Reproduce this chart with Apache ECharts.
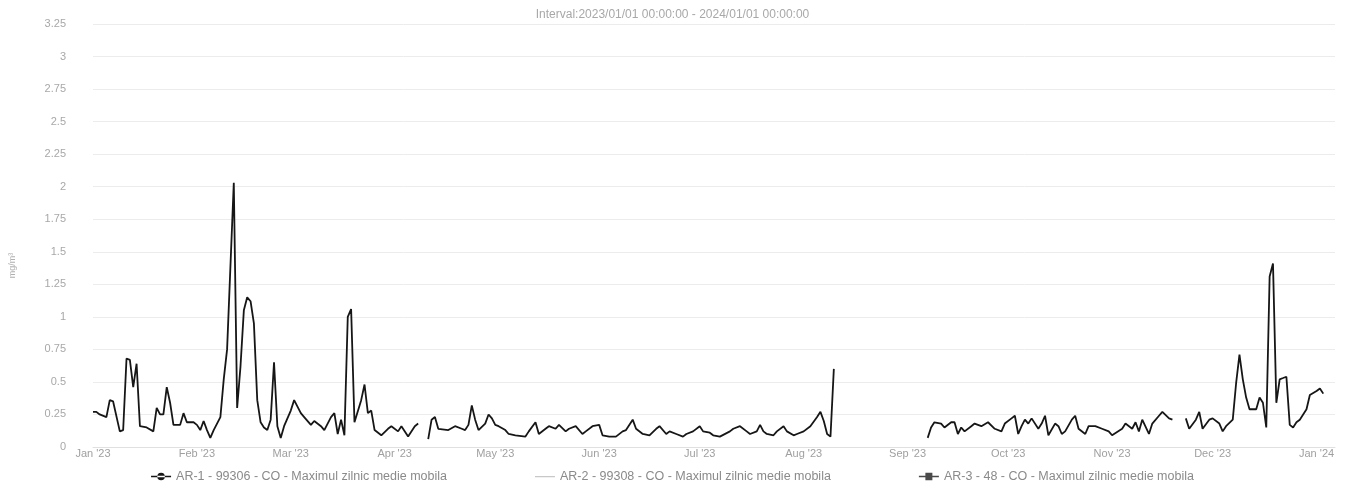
<!DOCTYPE html>
<html>
<head>
<meta charset="utf-8">
<script src="https://cdn.jsdelivr.net/npm/echarts@6/dist/echarts.min.js"></script>
<style>
html,body{margin:0;padding:0;background:#fff;}
#chart{width:1345px;height:489px;}
</style>
</head>
<body>
<div id="chart"></div>
<script>
const titleText = "Interval:2023/01/01 00:00:00 - 2024/01/01 00:00:00";
const monthNames = ["Jan","Feb","Mar","Apr","May","Jun","Jul","Aug","Sep","Oct","Nov","Dec"];
const seriesNames = [
  "AR-1 - 99306 - CO - Maximul zilnic medie mobila",
  "AR-2 - 99308 - CO - Maximul zilnic medie mobila",
  "AR-3 - 48 - CO - Maximul zilnic medie mobila"
];
// day offsets from 2023-01-01
const ar1Days = [0,1,2,4,5,6,8,9,10,11,12,13,14,16,18,19,20,21,22,23,24,26,27,28,30,31,32,33,34,35,36,38,39,40,42,43,44,45,46,47,48,49,50,51,52,53,54,55,56,57,59,60,62,63,65,66,68,69,71,72,73,74,75,76,77,78,80,81,82,83,84,86,88,89,91,92,94,96,97,98,
100,101,102,103,106,108,110,111,112,113,114,115,117,118,119,120,121,123,124,126,129,130,132,133,135,136,138,139,141,142,144,146,147,149,151,152,154,156,158,159,161,162,164,166,168,169,171,172,174,176,177,179,181,182,184,185,187,190,191,193,195,196,198,199,200,201,203,204,206,207,209,210,212,214,216,217,218,219,220,221,222,
249,250,251,253,254,256,257,258,259,260,262,263,265,267,269,271,272,274,275,276,277,278,279,280,282,283,284,285,287,288,289,290,292,293,294,296,297,299,301,303,304,307,308,310,311,312,313,315,316,318,319,321,322,324,
326,327,329,330,331,333,334,336,337,338,340,341,342,343,344,345,347,348,349,350,351,352,353,354,355,356,357,358,359,360,362,363,365,366,367];
const ar1Values = [0.27,0.27,0.25,0.23,0.36,0.35,0.12,0.13,0.68,0.67,0.46,0.64,0.16,0.15,0.12,0.30,0.25,0.25,0.46,0.34,0.17,0.17,0.26,0.19,0.19,0.17,0.13,0.20,0.13,0.07,0.13,0.23,0.52,0.75,2.03,0.30,0.62,1.05,1.15,1.12,0.95,0.36,0.19,0.15,0.13,0.21,0.65,0.16,0.07,0.16,0.28,0.36,0.26,0.23,0.17,0.20,0.16,0.13,0.23,0.26,0.10,0.21,0.09,1.00,1.06,0.19,0.36,0.48,0.26,0.28,0.13,0.09,0.14,0.16,0.12,0.16,0.08,0.16,0.18,null,
0.06,0.21,0.23,0.14,0.13,0.16,0.14,0.13,0.17,0.32,0.21,0.13,0.18,0.25,0.22,0.17,0.16,0.13,0.10,0.09,0.08,0.12,0.19,0.10,0.14,0.16,0.14,0.17,0.12,0.14,0.16,0.10,0.12,0.16,0.17,0.09,0.08,0.08,0.12,0.13,0.21,0.14,0.10,0.09,0.14,0.16,0.10,0.12,0.10,0.08,0.10,0.12,0.16,0.12,0.11,0.09,0.08,0.12,0.14,0.16,0.12,0.10,0.12,0.17,0.12,0.10,0.09,0.12,0.16,0.12,0.09,0.10,0.12,0.16,0.23,0.27,0.20,0.10,0.08,0.60,null,
0.07,0.15,0.19,0.18,0.15,0.19,0.19,0.10,0.15,0.12,0.16,0.18,0.16,0.19,0.14,0.12,0.18,0.22,0.24,0.10,0.16,0.21,0.18,0.22,0.14,0.18,0.24,0.09,0.18,0.16,0.10,0.12,0.21,0.24,0.14,0.10,0.16,0.16,0.14,0.12,0.09,0.14,0.18,0.14,0.19,0.12,0.21,0.10,0.18,0.24,0.27,0.22,0.21,null,
0.22,0.14,0.21,0.27,0.14,0.21,0.22,0.18,0.12,0.16,0.21,0.49,0.71,0.52,0.38,0.29,0.29,0.38,0.34,0.15,1.31,1.41,0.34,0.52,0.53,0.54,0.17,0.15,0.19,0.21,0.29,0.40,0.43,0.45,0.41];
const ar2Days = [];
const ar2Values = [];
const ar3Days = [];
const ar3Values = [];
const yTicks = ["0","0.25","0.5","0.75","1","1.25","1.5","1.75","2","2.25","2.5","2.75","3","3.25"];

function toPairs(days, vals){
  return days.map((d,i)=>[new Date(2023,0,1+d).getTime(), vals[i]]);
}
const DAY = 86400000;
const chart = echarts.init(document.getElementById('chart'));
chart.setOption({
  animation:false,
  backgroundColor:'#fff',
  title:{text:titleText,left:'center',top:4,textStyle:{fontSize:12,fontWeight:'normal',color:'#a8a8a8',fontFamily:'Liberation Sans, Arial'}},
  grid:{left:90,right:10,top:24,bottom:42},
  legend:{
    bottom:1,left:'center',itemGap:88,itemWidth:20,itemHeight:9,
    textStyle:{fontSize:12.5,color:'#8a8a8a',fontFamily:'Liberation Sans, Arial'},
    data:[
      {name:seriesNames[0],icon:'path://M0,4h20v1.6h-20z M10,1a3.8,3.8 0 1,0 0.01,0z',itemStyle:{color:'#161616'}},
      {name:seriesNames[1],icon:'path://M0,4h20v1.2h-20z M0,0h0.01v0.01h-0.01z M0,9h0.01v0.01h-0.01z',itemStyle:{color:'#c8c8c8'}},
      {name:seriesNames[2],icon:'path://M0,4h20v1.6h-20z M6.5,1h7v7.6h-7z',itemStyle:{color:'#4a4a4a'}}
    ]
  },
  xAxis:{
    type:'time',
    min:new Date(2023,0,1).getTime(),
    max:new Date(2023,0,1).getTime()+370.5*DAY,
    minInterval:28*DAY,maxInterval:31*DAY,
    axisLine:{show:true,lineStyle:{color:'#e0e0e0'}},
    axisTick:{show:false},
    splitLine:{show:false},
    axisLabel:{
      color:'#a0a0a0',fontSize:11,margin:1,fontFamily:'Liberation Sans, Arial',
      formatter:function(v){const d=new Date(v);return monthNames[d.getMonth()]+" '"+String(d.getFullYear()).slice(2);}
    }
  },
  yAxis:{
    type:'value',min:0,max:3.25,interval:0.25,
    name:'mg/m³',nameLocation:'middle',nameGap:76,nameRotate:90,
    nameTextStyle:{fontSize:9,color:'#b0b0b0',padding:[0,0,0,-60]},
    axisLine:{show:false},axisTick:{show:false},
    splitLine:{lineStyle:{color:'#ececec',width:1}},
    axisLabel:{color:'#a8a8a8',fontSize:11,margin:27,fontFamily:'Liberation Sans, Arial',
      formatter:function(v){const i=Math.round(v/0.25);return yTicks[i]!==undefined?yTicks[i]:'';}}
  },
  series:[
    {name:seriesNames[0],type:'line',data:toPairs(ar1Days,ar1Values),showSymbol:false,symbol:'circle',symbolSize:6,
      connectNulls:false,lineStyle:{color:'#161616',width:1.8},itemStyle:{color:'#161616'},z:3},
    {name:seriesNames[1],type:'line',data:toPairs(ar2Days,ar2Values),showSymbol:false,
      lineStyle:{color:'#d4d4d4',width:1},itemStyle:{color:'#c8c8c8'},z:1},
    {name:seriesNames[2],type:'line',data:toPairs(ar3Days,ar3Values),showSymbol:false,symbol:'rect',
      lineStyle:{color:'#5a5a5a',width:1},itemStyle:{color:'#4a4a4a'},z:2}
  ]
});
</script>
</body>
</html>
